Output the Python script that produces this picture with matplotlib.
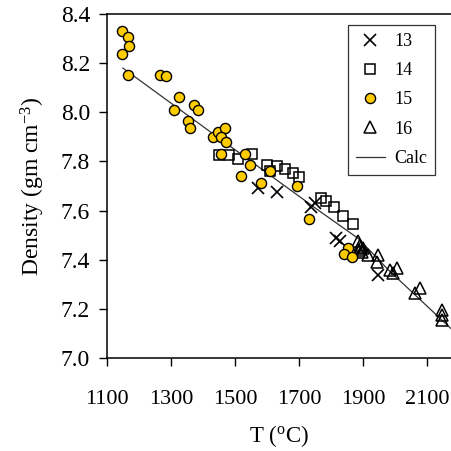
import matplotlib
matplotlib.use('Agg')
import matplotlib.pyplot as plt

# run 13 (crosses)
t13 = [1573, 1630, 1738, 1750, 1815, 1828, 1946]
d13 = [7.690, 7.675, 7.615, 7.630, 7.490, 7.475, 7.340]

# run 14 (open squares)
t14 = [1450, 1482, 1510, 1552, 1600, 1609, 1630, 1656, 1680, 1700,
       1768, 1785, 1810, 1838, 1870]
d14 = [7.828, 7.828, 7.812, 7.830, 7.785, 7.760, 7.780, 7.770, 7.752, 7.736,
       7.652, 7.640, 7.615, 7.580, 7.545]

# run 15 (yellow circles)
t15 = [1147, 1165, 1169, 1147, 1167, 1267, 1284, 1324, 1309, 1371,
       1385, 1354, 1359, 1432, 1448, 1469, 1458, 1472, 1455, 1531,
       1547, 1520, 1583, 1609, 1693, 1732, 1852, 1842, 1865]
d15 = [8.332, 8.308, 8.271, 8.237, 8.152, 8.152, 8.146, 8.063, 8.009, 8.031,
       8.011, 7.966, 7.935, 7.898, 7.921, 7.935, 7.901, 7.878, 7.830, 7.830,
       7.787, 7.741, 7.712, 7.762, 7.700, 7.565, 7.449, 7.422, 7.410]

# run 16 (open triangles)
t16 = [1885, 1890, 1893, 1888, 1896, 1901, 1917, 1948, 1943, 1984,
       2005, 1995, 2062, 2078, 2146, 2146, 2146]
d16 = [7.475, 7.462, 7.450, 7.440, 7.430, 7.446, 7.419, 7.419, 7.392, 7.358,
       7.365, 7.345, 7.263, 7.284, 7.195, 7.175, 7.155]

# calculated curve
t_calc = [1150, 1430, 1760, 1885, 1980, 2175]
d_calc = [8.180, 7.914, 7.602, 7.487, 7.358, 7.120]

xticks = [1100, 1300, 1500, 1700, 1900, 2100]
yticks = [7.0, 7.2, 7.4, 7.6, 7.8, 8.0, 8.2, 8.4]

plt.rcParams['font.family'] = ['Liberation Serif', 'DejaVu Serif']

fig = plt.figure(figsize=(4.51, 4.51), dpi=100)
ax = fig.add_axes([0.237, 0.206, 0.763, 0.763])

ax.plot(t_calc, d_calc, color='#333333', lw=0.9, label='Calc', zorder=2)
ax.plot(t13, d13, ls='none', marker='x', ms=8, mew=1.2, color='black',
        label='13', zorder=3)
ax.plot(t14, d14, ls='none', marker='s', ms=7.5, mfc='none', mec='black',
        mew=1.1, label='14', zorder=3)
ax.plot(t15, d15, ls='none', marker='o', ms=7.3, mfc='#FFCC00', mec='black',
        mew=1.0, label='15', zorder=4)
ax.plot(t16, d16, ls='none', marker='^', ms=8.5, mfc='none', mec='black',
        mew=1.1, label='16', zorder=3)

ax.set_xlim(1100, 2175)
ax.set_ylim(7.0, 8.4)
ax.set_xticks(xticks)
ax.set_yticks(yticks)
ax.set_yticklabels([f'{v:.1f}' for v in yticks])
ax.tick_params(axis='x', direction='out', length=6, width=1, pad=17,
               labelsize=16)
ax.tick_params(axis='y', direction='out', length=6, width=1, pad=6,
               labelsize=17)
ax.spines['right'].set_visible(False)
for s in ['left', 'bottom', 'top']:
    ax.spines[s].set_linewidth(1.1)

ax.set_xlabel('T ($\\mathregular{^{o}}$C)', fontsize=16.5, labelpad=10)
ax.set_ylabel('Density (gm cm$\\mathregular{^{-3}}$)', fontsize=17, labelpad=10)

handles, labels = ax.get_legend_handles_labels()
order = [1, 2, 3, 4, 0]
leg = ax.legend([handles[i] for i in order], [labels[i] for i in order],
                loc='upper right', bbox_to_anchor=(0.98, 0.995), fontsize=13,
                frameon=True, fancybox=False, edgecolor='black',
                handlelength=1.6, handletextpad=0.5, labelspacing=0.68,
                borderpad=0.45)
leg.get_frame().set_linewidth(0.9)

fig.savefig('out.png', dpi=100)
